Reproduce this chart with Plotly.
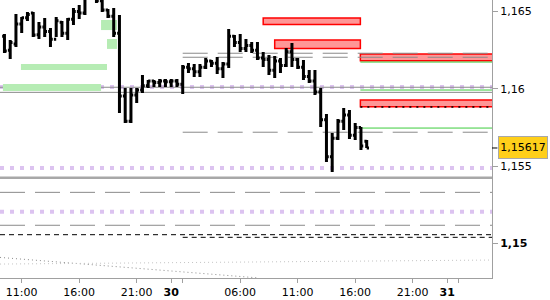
import plotly.graph_objects as go
import pandas as pd

# ---------------- data ----------------
bar_time = pd.date_range("2021-03-29 09:30", periods=64, freq="30min")
bar_open = [1.16340, 1.16250, 1.16290, 1.16420, 1.16460, 1.16490, 1.16350, 1.16400,
            1.16370, 1.16320, 1.16430, 1.16360, 1.16450, 1.16500, 1.16490, 1.16590,
            1.16620, 1.16570, 1.16510, 1.16470, 1.16360, 1.15953, 1.15790, 1.15960,
            1.15992, 1.16020, 1.16050, 1.16040, 1.16050, 1.16045, 1.16050, 1.16030,
            1.16140, 1.16130, 1.16110, 1.16140, 1.16180, 1.16165, 1.16130, 1.16160,
            1.16340, 1.16300, 1.16260, 1.16280, 1.16250, 1.16200, 1.16190, 1.16120,
            1.16180, 1.16150, 1.16240, 1.16190, 1.16140, 1.16080, 1.16050, 1.15980,
            1.15800, 1.15560, 1.15680, 1.15790, 1.15830, 1.15700, 1.15750, 1.15660]
bar_high = [1.16355, 1.16316, 1.16484, 1.16465, 1.16497, 1.16497, 1.16432, 1.16458,
            1.16393, 1.16465, 1.16439, 1.16458, 1.16523, 1.16542, 1.16610, 1.16680,
            1.16650, 1.16600, 1.16516, 1.16523, 1.16478, 1.16005, 1.16005, 1.16005,
            1.16089, 1.16057, 1.16057, 1.16063, 1.16063, 1.16063, 1.16063, 1.16154,
            1.16167, 1.16160, 1.16160, 1.16199, 1.16186, 1.16206, 1.16173, 1.16387,
            1.16348, 1.16355, 1.16322, 1.16303, 1.16303, 1.16238, 1.16219, 1.16212,
            1.16199, 1.16264, 1.16296, 1.16199, 1.16186, 1.16122, 1.16122, 1.16005,
            1.15837, 1.15714, 1.15804, 1.15876, 1.15863, 1.15779, 1.15753, 1.15669]
bar_low = [1.16232, 1.16193, 1.16270, 1.16361, 1.16439, 1.16335, 1.16322, 1.16335,
           1.16270, 1.16335, 1.16335, 1.16316, 1.16413, 1.16452, 1.16478, 1.16590,
           1.16555, 1.16497, 1.16458, 1.16335, 1.15843, 1.15779, 1.15779, 1.15908,
           1.15973, 1.16005, 1.16012, 1.16012, 1.16012, 1.16012, 1.16012, 1.15966,
           1.16102, 1.16076, 1.16076, 1.16128, 1.16141, 1.16096, 1.16070, 1.16135,
           1.16270, 1.16238, 1.16238, 1.16232, 1.16186, 1.16141, 1.16089, 1.16070,
           1.16102, 1.16141, 1.16141, 1.16128, 1.16057, 1.16037, 1.15960, 1.15753,
           1.15526, 1.15462, 1.15669, 1.15734, 1.15675, 1.15669, 1.15604, 1.15617]
bar_close = [1.16245, 1.16300, 1.16420, 1.16460, 1.16480, 1.16348, 1.16400, 1.16370,
             1.16320, 1.16440, 1.16360, 1.16450, 1.16500, 1.16490, 1.16590, 1.16620,
             1.16570, 1.16510, 1.16470, 1.16360, 1.15953, 1.15790, 1.15960, 1.15992,
             1.16020, 1.16050, 1.16040, 1.16050, 1.16045, 1.16050, 1.16030, 1.16140,
             1.16130, 1.16110, 1.16140, 1.16180, 1.16165, 1.16130, 1.16160, 1.16340,
             1.16300, 1.16260, 1.16280, 1.16250, 1.16200, 1.16190, 1.16120, 1.16180,
             1.16150, 1.16240, 1.16190, 1.16140, 1.16080, 1.16050, 1.15980, 1.15800,
             1.15560, 1.15680, 1.15790, 1.15830, 1.15700, 1.15750, 1.15630, 1.15617]
current_price = 1.15617

# supply / demand zones
green_start = ["2021-03-29 17:54", "2021-03-29 18:25", "2021-03-29 10:56", "2021-03-29 09:22"]
green_end = ["2021-03-29 19:17", "2021-03-29 19:17", "2021-03-29 18:25", "2021-03-29 17:54"]
green_top = [1.16445, 1.16322, 1.16160, 1.16031]
green_bottom = [1.16380, 1.16258, 1.16122, 1.15986]

red_start = ["2021-03-30 08:00", "2021-03-30 09:00", "2021-03-30 16:27", "2021-03-30 16:27"]
red_end = ["2021-03-30 16:27", "2021-03-30 16:27", "2021-03-31 06:00", "2021-03-31 06:00"]
red_top = [1.16458, 1.16316, 1.16225, 1.15928]
red_bottom = [1.16416, 1.16261, 1.16182, 1.15884]

# horizontal levels
purple_dotted = [1.16012, 1.15488, 1.15205]
gray_solid = [1.16010, 1.15977]
gray_thick = [1.15425]
gray_dashed_full = [1.15330, 1.15117]
black_dashed_full = [1.15056]
partial_start = "2021-03-30 01:00"
gray_dashed_partial = [1.16230, 1.16204, 1.15719]
black_dashed_partial = [1.15039]
zone_start = "2021-03-30 16:27"
zone_end = "2021-03-31 06:00"
green_levels = [1.16173, 1.15992, 1.15746]
black_dashed_zone = [1.15882]

# trend (dotted) lines
trend1_x = ["2021-03-29 09:07", "2021-03-30 07:28"]
trend1_y = [1.14909, 1.14777]
trend2_x = ["2021-03-29 09:07", "2021-03-31 03:54"]
trend2_y = [1.14866, 1.14892]

# axes
x_range = ["2021-03-29 09:06:47", "2021-03-31 03:53:46"]
y_range = [1.147758, 1.165745]
x_tickvals = ["2021-03-29 11:00", "2021-03-29 16:00", "2021-03-29 21:00", "2021-03-30 00:00",
              "2021-03-30 01:00", "2021-03-30 06:00", "2021-03-30 11:00", "2021-03-30 16:00",
              "2021-03-30 21:00", "2021-03-31 00:00", "2021-03-31 01:00"]
x_ticktext = ["11:00", "16:00", "21:00", "<b>30</b>", "", "06:00", "11:00", "16:00",
              "21:00", "<b>31</b>", ""]
y_tickvals = [1.15, 1.155, 1.16, 1.165]
y_ticktext = ["<b>1,15</b>", "1,155", "1,16", "1,165"]

FONT = "DejaVu Sans"

# ---------------- figure ----------------
fig = go.Figure()
fig.add_trace(go.Ohlc(
    x=bar_time, open=bar_open, high=bar_high, low=bar_low, close=bar_close,
    increasing=dict(line=dict(color="black", width=3)),
    decreasing=dict(line=dict(color="black", width=3)),
    tickwidth=0.4, hoverinfo="skip", showlegend=False))

fig.add_trace(go.Scatter(x=trend1_x, y=trend1_y, mode="lines",
                         line=dict(color="#8c8c8c", width=1, dash="1px,3px"),
                         hoverinfo="skip", showlegend=False))
fig.add_trace(go.Scatter(x=trend2_x, y=trend2_y, mode="lines",
                         line=dict(color="#c4c4c4", width=1, dash="1px,3px"),
                         hoverinfo="skip", showlegend=False))

shapes = []
for s, e, t, b in zip(green_start, green_end, green_top, green_bottom):
    shapes.append(dict(type="rect", xref="x", yref="y", x0=s, x1=e, y0=b, y1=t,
                       fillcolor="#b6ecb4", line=dict(width=0), layer="below"))
for s, e, t, b in zip(red_start, red_end, red_top, red_bottom):
    shapes.append(dict(type="rect", xref="x", yref="y", x0=s, x1=e, y0=b, y1=t,
                       fillcolor="#ff9696", line=dict(color="#ff0000", width=1.5),
                       layer="below"))


def hline(v, style, x0=None, x1=None):
    if x0 is None:
        d = dict(type="line", xref="paper", x0=0, x1=1, yref="y", y0=v, y1=v)
    else:
        d = dict(type="line", xref="x", x0=x0, x1=x1, yref="y", y0=v, y1=v)
    d["line"] = style
    d["layer"] = "below"
    shapes.append(d)


for v in purple_dotted:
    hline(v, dict(color="rgba(185,135,225,0.5)", width=4, dash="4px,6px"))
for v in gray_solid:
    hline(v, dict(color="#8a8a8a", width=1))
for v in gray_thick:
    hline(v, dict(color="#a8a8a8", width=2.5))
for v in gray_dashed_full:
    hline(v, dict(color="#8a8a8a", width=1, dash="25px,10px"))
for v in black_dashed_full:
    hline(v, dict(color="black", width=1, dash="5px,4px"))
for v in gray_dashed_partial:
    hline(v, dict(color="#8a8a8a", width=1, dash="25px,10px"), partial_start, zone_end)
for v in black_dashed_partial:
    hline(v, dict(color="black", width=1, dash="5px,4px"), partial_start, zone_end)
for v in green_levels:
    hline(v, dict(color="#3ccc3c", width=1), zone_start, zone_end)
for v in black_dashed_zone:
    hline(v, dict(color="black", width=1.5, dash="2px,5px"), zone_start, zone_end)

# current price tick on the axis
shapes.append(dict(type="line", xref="paper", x0=1, x1=1.011, yref="y",
                   y0=current_price, y1=current_price,
                   line=dict(color="black", width=1)))

fig.update_layout(
    width=550, height=300,
    margin=dict(l=0, r=58, t=0, b=22),
    paper_bgcolor="white", plot_bgcolor="white",
    showlegend=False,
    shapes=shapes,
    xaxis=dict(type="date", range=x_range, tickvals=x_tickvals, ticktext=x_ticktext,
               ticks="outside", ticklen=4, tickcolor="#a0a0a0",
               showline=True, linecolor="#a0a0a0", linewidth=1,
               showgrid=False, zeroline=False,
               rangeslider=dict(visible=False),
               tickfont=dict(family=FONT, size=11, color="black")),
    yaxis=dict(side="right", range=y_range, tickvals=y_tickvals, ticktext=y_ticktext,
               ticks="outside", ticklen=5, tickcolor="#a0a0a0",
               showline=True, linecolor="#a0a0a0", linewidth=1,
               showgrid=False, zeroline=False,
               tickfont=dict(family=FONT, size=11, color="black")),
    annotations=[dict(xref="paper", yref="y", x=1, y=current_price, xanchor="left",
                      yanchor="middle", xshift=6, text="1,15617", showarrow=False,
                      font=dict(family=FONT, size=11, color="black"),
                      bgcolor="#ffcf1a", bordercolor="#a8a8a8", borderwidth=1,
                      borderpad=1, width=46, height=19)],
)

fig.write_html("out.html")
